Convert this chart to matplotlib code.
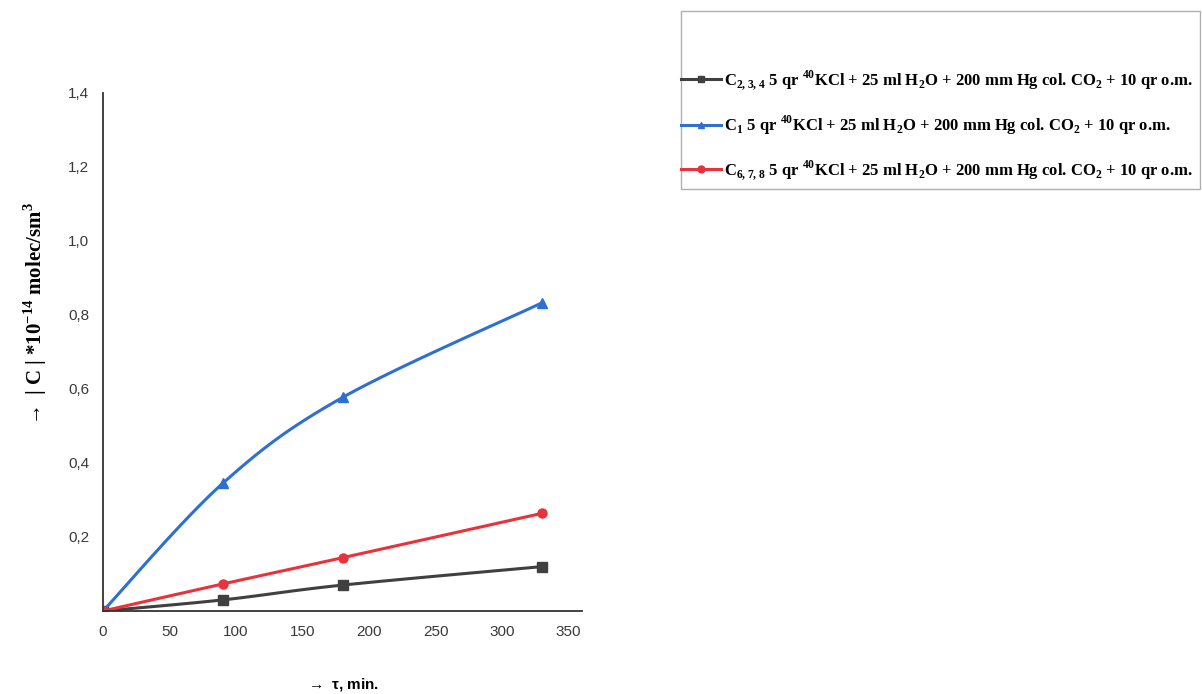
import numpy as np
import matplotlib
matplotlib.use("Agg")
import matplotlib.pyplot as plt
from matplotlib.patches import Rectangle

plt.rcParams['mathtext.fontset'] = 'custom'
plt.rcParams['mathtext.rm'] = 'Liberation Serif:bold'
plt.rcParams['mathtext.bf'] = 'Liberation Serif:bold'

time_min = [0, 90, 180, 330]
c234 = [0.0, 0.03, 0.07, 0.12]
c1 = [0.0, 0.345, 0.577, 0.833]
c678 = [0.0, 0.073, 0.144, 0.264]

labels = [
    r'C$_{2,3,4}$ 5 qr $^{40}$KCl + 25 ml H$_2$O + 200 mm Hg col. CO$_2$ + 10 qr o.m.',
    r'C$_1$ 5 qr $^{40}$KCl + 25 ml H$_2$O + 200 mm Hg col. CO$_2$ + 10 qr o.m.',
    r'C$_{6,7,8}$ 5 qr $^{40}$KCl + 25 ml H$_2$O + 200 mm Hg col. CO$_2$ + 10 qr o.m.',
]
colors = ['#404040', '#2f6fd0', '#e8323c']
markers = ['s', '^', 'o']

x_ticks = [0, 50, 100, 150, 200, 250, 300, 350]
y_ticks = [0.2, 0.4, 0.6, 0.8, 1.0, 1.2, 1.4]
y_tick_labels = ['0,2', '0,4', '0,6', '0,8', '1,0', '1,2', '1,4']


def smooth(x, y, n=40, tension=0.5):
    # Excel-like smoothed line through the given points (cubic Hermite)
    x = np.asarray(x, float); y = np.asarray(y, float)
    px = np.concatenate([[x[0]], x, [x[-1]]])
    py = np.concatenate([[y[0]], y, [y[-1]]])
    xs, ys = [], []
    for i in range(1, len(px) - 2):
        t = np.linspace(0, 1, n)
        m1x = tension * (px[i + 1] - px[i - 1]); m2x = tension * (px[i + 2] - px[i])
        m1y = tension * (py[i + 1] - py[i - 1]); m2y = tension * (py[i + 2] - py[i])
        h00 = 2 * t**3 - 3 * t**2 + 1; h10 = t**3 - 2 * t**2 + t
        h01 = -2 * t**3 + 3 * t**2; h11 = t**3 - t**2
        xs.append(h00 * px[i] + h10 * m1x + h01 * px[i + 1] + h11 * m2x)
        ys.append(h00 * py[i] + h10 * m1y + h01 * py[i + 1] + h11 * m2y)
    return np.concatenate(xs), np.concatenate(ys)


W, H = 1202, 694
fig = plt.figure(figsize=(W / 100, H / 100), dpi=100)
ax = fig.add_axes([0.0857, 0.1196, 0.3985, 0.7465])

handles = []
for ys, lab, col, mk in zip([c234, c1, c678], labels, colors, markers):
    sx, sy = smooth(time_min, ys)
    ax.plot(sx, sy, color=col, lw=2.2)
    ax.plot(time_min, ys, linestyle='none', marker=mk, color=col,
            markersize=7 if mk == '^' else 6.5)
    h, = ax.plot([], [], color=col, lw=2.2, marker=mk, markersize=5, label=lab)
    handles.append(h)

ax.set_xlim(0, 360)
ax.set_ylim(0, 1.4)
ax.set_xticks(x_ticks)
ax.set_yticks(y_ticks)
ax.set_yticklabels(y_tick_labels)
ax.tick_params(length=0, labelsize=11, colors='#3a3a3a', pad=10)
for lbl in ax.get_xticklabels() + ax.get_yticklabels():
    lbl.set_family('Liberation Sans')
for s in ['top', 'right']:
    ax.spines[s].set_visible(False)
for s in ['left', 'bottom']:
    ax.spines[s].set_color('#333333')
    ax.spines[s].set_linewidth(1.3)

ax.set_xlabel(r'$\rightarrow$ τ, min.', fontsize=11, fontweight='bold',
              family='Liberation Sans', labelpad=27)
ax.set_ylabel(r'$\rightarrow$ | C | *10$^{-14}$ molec/sm$^3$', fontsize=15,
              fontweight='bold', family='Liberation Serif')
ax.yaxis.set_label_coords(-0.112, 0.57)

# legend frame (Excel-style box, taller than the entries)
fig.add_artist(Rectangle((681 / W, 1 - 189 / H), (1200 - 681) / W, (189 - 11) / H,
                         transform=fig.transFigure, facecolor='none',
                         edgecolor='#b0b0b0', lw=1.0))
leg = fig.legend(handles=handles, loc='center left',
                 bbox_to_anchor=(681 / W, 1 - 125 / H),
                 prop={'family': 'Liberation Serif', 'weight': 'bold', 'size': 12},
                 frameon=False, handlelength=2.4, handletextpad=0.15,
                 borderpad=0, labelspacing=1.3, borderaxespad=0)

fig.savefig('out.png', dpi=100)
